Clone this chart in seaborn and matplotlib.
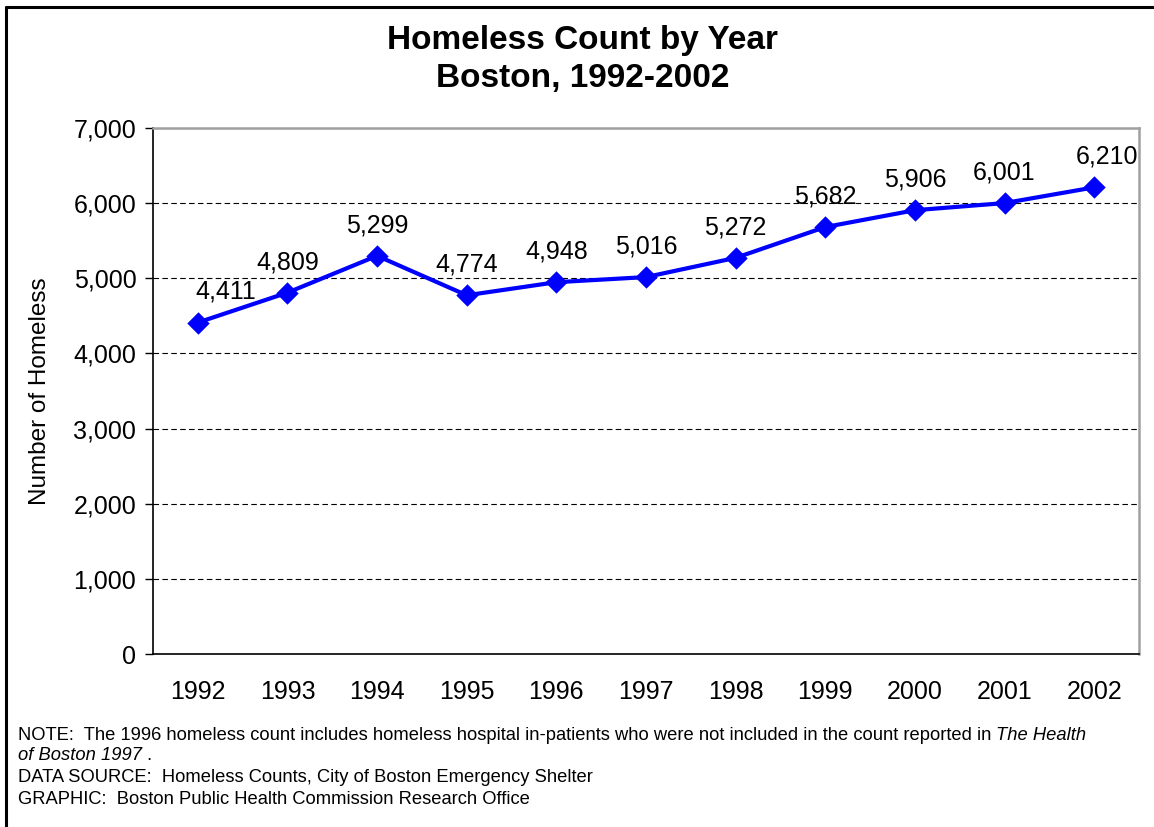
import matplotlib
matplotlib.use('Agg')
import matplotlib.pyplot as plt
from matplotlib.lines import Line2D
from matplotlib.ticker import FuncFormatter
import seaborn as sns
import numpy as np

years = ['1992', '1993', '1994', '1995', '1996', '1997', '1998', '1999', '2000', '2001', '2002']
counts = [4411, 4809, 5299, 4774, 4948, 5016, 5272, 5682, 5906, 6001, 6210]
yticks = [0, 1000, 2000, 3000, 4000, 5000, 6000, 7000]

sns.set_style("white")
plt.rcParams['font.family'] = ['Liberation Sans', 'DejaVu Sans']
plt.rcParams['text.color'] = 'black'
plt.rcParams['axes.labelcolor'] = 'black'
plt.rcParams['xtick.color'] = 'black'
plt.rcParams['ytick.color'] = 'black'

fig = plt.figure(figsize=(11.54, 8.27), dpi=100)
ax = fig.add_axes([153/1154, 1 - 654/827, (1139 - 153)/1154, (654 - 128)/827])

sns.pointplot(x=years, y=counts, ax=ax, color='#0000FF', markers='D',
              linestyles='-', markersize=9, linewidth=3, errorbar=None)

ax.set_ylim(0, 7000)
ax.set_xlim(-0.5, len(years) - 0.5)
ax.set_yticks(yticks)
ax.yaxis.set_major_formatter(FuncFormatter(lambda v, p: f"{int(v):,}"))
ax.set_xticks(np.arange(-0.5, len(years)), minor=True)
ax.tick_params(axis='x', which='major', length=0, pad=19, labelsize=18)
ax.tick_params(axis='x', which='minor', length=6, width=1, direction='out', color='black')
ax.tick_params(axis='y', length=6, width=1, direction='out', color='black', pad=6, labelsize=18, left=True)

ax.set_axisbelow(True)
ax.yaxis.grid(True, linestyle=(0, (5, 3)), color='black', linewidth=0.8)
ax.xaxis.grid(False)

for side in ['left', 'bottom']:
    ax.spines[side].set_color('black')
    ax.spines[side].set_linewidth(1.2)
for side in ['top', 'right']:
    ax.spines[side].set_color('#a0a0a0')
    ax.spines[side].set_linewidth(1.8)

ax.set_xlabel('')
ax.set_ylabel('Number of Homeless', fontsize=17.5)
ax.yaxis.set_label_coords(-0.103, 0.5)

# data labels, Excel nudged the end ones sideways
for i, (yr, c) in enumerate(zip(years, counts)):
    dx = 0
    if i == 0:
        dx = 20
    elif i == len(years) - 1:
        dx = 9
    ax.annotate(f"{c:,}", (i, c), xytext=(dx, 22), textcoords='offset points',
                ha='center', va='center', fontsize=18)

fig.text(0.505, 1 - 40/827, 'Homeless Count by Year', ha='center', va='center',
         fontsize=24, fontweight='bold')
fig.text(0.505, 1 - 78/827, 'Boston, 1992-2002', ha='center', va='center',
         fontsize=24, fontweight='bold')

# footnote: plain and italic pieces laid side by side
note_size = 13.2
renderer = fig.canvas.get_renderer()
x0 = 18/1154

def put_pieces(pieces, yy):
    x = x0
    for txt, style in pieces:
        t = fig.text(x, 1 - yy/827, txt, ha='left', va='center', fontsize=note_size, fontstyle=style)
        bb = t.get_window_extent(renderer=renderer)
        x = bb.x1 / fig.bbox.width

put_pieces([("NOTE:  The 1996 homeless count includes homeless hospital in-patients who were not included in the count reported in ", 'normal'),
            ("The Health", 'italic')], 735)
put_pieces([("of Boston 1997", 'italic'), (" .", 'normal')], 755)
put_pieces([("DATA SOURCE:  Homeless Counts, City of Boston Emergency Shelter", 'normal')], 777)
put_pieces([("GRAPHIC:  Boston Public Health Commission Research Office", 'normal')], 800)

# outer frame (left and top edges)
fig.add_artist(Line2D([6/1154, 6/1154], [0, 1 - 7/827], color='black', linewidth=2.2, transform=fig.transFigure))
fig.add_artist(Line2D([6/1154, 1], [1 - 7/827, 1 - 7/827], color='black', linewidth=2.2, transform=fig.transFigure))

plt.savefig('out.png', dpi=100)
plt.close()
